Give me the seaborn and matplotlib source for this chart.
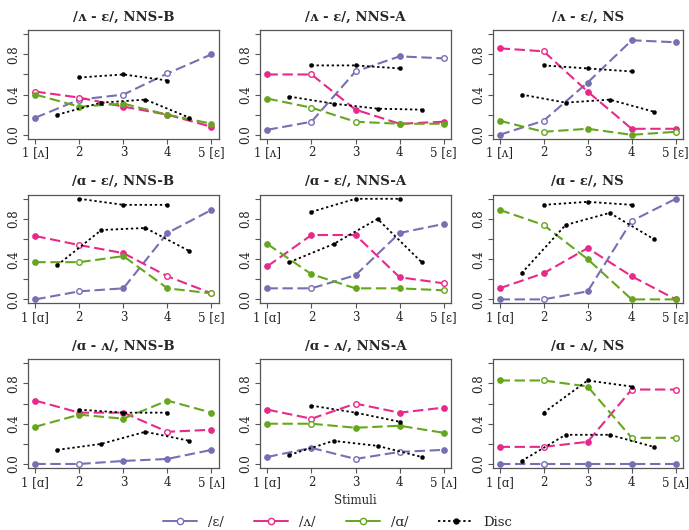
import matplotlib
matplotlib.use("Agg")
import matplotlib.pyplot as plt
from matplotlib.lines import Line2D
import seaborn as sns
import pandas as pd

# panel titles, row by row
panel_titles = ["/ʌ - ɛ/, NNS-B", "/ʌ - ɛ/, NNS-A", "/ʌ - ɛ/, NS",
                "/ɑ - ɛ/, NNS-B", "/ɑ - ɛ/, NNS-A", "/ɑ - ɛ/, NS",
                "/ɑ - ʌ/, NNS-B", "/ɑ - ʌ/, NNS-A", "/ɑ - ʌ/, NS"]
row_ticklabels = [["1 [ʌ]", "2", "3", "4", "5 [ɛ]"],
                  ["1 [ɑ]", "2", "3", "4", "5 [ɛ]"],
                  ["1 [ɑ]", "2", "3", "4", "5 [ʌ]"]]
stimuli = [1, 2, 3, 4, 5]
disc_two_x = [2, 3, 4]
disc_one_x = [1.5, 2.5, 3.5, 4.5]

# proportion of responses per stimulus, one list per panel
eps_resp = [[0.17, 0.35, 0.40, 0.61, 0.80],
            [0.05, 0.13, 0.63, 0.78, 0.76],
            [0.00, 0.14, 0.52, 0.94, 0.92],
            [0.00, 0.08, 0.11, 0.66, 0.89],
            [0.11, 0.11, 0.24, 0.66, 0.75],
            [0.00, 0.00, 0.08, 0.78, 1.00],
            [0.00, 0.00, 0.03, 0.05, 0.14],
            [0.07, 0.16, 0.05, 0.12, 0.14],
            [0.00, 0.00, 0.00, 0.00, 0.00]]
wedge_resp = [[0.43, 0.37, 0.28, 0.20, 0.08],
              [0.60, 0.60, 0.25, 0.11, 0.13],
              [0.86, 0.83, 0.43, 0.06, 0.06],
              [0.63, 0.54, 0.46, 0.23, 0.06],
              [0.33, 0.64, 0.64, 0.22, 0.16],
              [0.11, 0.26, 0.51, 0.23, 0.00],
              [0.63, 0.51, 0.51, 0.32, 0.34],
              [0.54, 0.45, 0.60, 0.51, 0.56],
              [0.17, 0.17, 0.22, 0.74, 0.74]]
alpha_resp = [[0.40, 0.28, 0.31, 0.20, 0.11],
              [0.36, 0.27, 0.13, 0.11, 0.11],
              [0.14, 0.03, 0.06, 0.00, 0.03],
              [0.37, 0.37, 0.43, 0.11, 0.06],
              [0.55, 0.25, 0.11, 0.11, 0.09],
              [0.89, 0.74, 0.40, 0.00, 0.00],
              [0.37, 0.49, 0.45, 0.63, 0.51],
              [0.40, 0.40, 0.36, 0.38, 0.31],
              [0.83, 0.83, 0.77, 0.26, 0.26]]
# discrimination: two-step pairs (2,3,4) and one-step pairs (1.5..4.5)
disc_two = [[0.57, 0.60, 0.54],
            [0.69, 0.69, 0.66],
            [0.69, 0.66, 0.63],
            [1.00, 0.94, 0.94],
            [0.87, 1.00, 1.00],
            [0.94, 0.97, 0.94],
            [0.54, 0.51, 0.51],
            [0.58, 0.51, 0.42],
            [0.51, 0.83, 0.77]]
disc_one = [[0.20, 0.32, 0.35, 0.17],
            [0.38, 0.31, 0.26, 0.25],
            [0.40, 0.32, 0.35, 0.23],
            [0.34, 0.69, 0.71, 0.48],
            [0.37, 0.55, 0.80, 0.37],
            [0.26, 0.74, 0.86, 0.60],
            [0.14, 0.20, 0.32, 0.23],
            [0.09, 0.23, 0.18, 0.07],
            [0.03, 0.29, 0.29, 0.17]]
# stimuli drawn with an open circle
eps_open = [[2, 3, 4], [2, 3, 5], [2], [2], [2], [2, 4], [2], [3, 4], [2]]
wedge_open = [[1, 2], [2], [2], [2, 4], [5], [], [4], [2, 3], [2, 4, 5]]
alpha_open = [[], [2, 3], [2, 5], [2, 5], [5], [2], [], [2], [2, 4, 5]]

purple, magenta, green = "#7570B3", "#E7298A", "#66A61E"
frame = "#555555"

sns.set_style("ticks")
plt.rcParams["font.family"] = ["DejaVu Serif"]

fig, axes = plt.subplots(3, 3, figsize=(6.89, 5.30), dpi=100)
fig.subplots_adjust(left=0.041, right=0.991, top=0.943, bottom=0.117,
                    wspace=0.22, hspace=0.515)

dash = (0, (5, 2.2))
series = [(eps_resp, eps_open, purple),
          (wedge_resp, wedge_open, magenta),
          (alpha_resp, alpha_open, green)]

for i, ax in enumerate(axes.flatten()):
    for resp, opened, col in series:
        df = pd.DataFrame({"x": stimuli, "y": resp[i]})
        sns.lineplot(data=df, x="x", y="y", ax=ax, color=col, lw=1.5,
                     linestyle=dash, zorder=2)
        df["open"] = df["x"].isin(opened[i])
        closed_pts = df[~df["open"]]
        open_pts = df[df["open"]]
        sns.scatterplot(data=closed_pts, x="x", y="y", ax=ax, color=col,
                        edgecolor=col, s=16, linewidth=0.8, zorder=3)
        sns.scatterplot(data=open_pts, x="x", y="y", ax=ax, color="white",
                        edgecolor=col, s=16, linewidth=1.0, zorder=3)

    for xs, ys in [(disc_two_x, disc_two[i]), (disc_one_x, disc_one[i])]:
        d = pd.DataFrame({"x": xs, "y": ys})
        sns.lineplot(data=d, x="x", y="y", ax=ax, color="black", lw=1.3,
                     linestyle=(0, (1.3, 1.5)), zorder=4)
        sns.scatterplot(data=d, x="x", y="y", ax=ax, color="black",
                        edgecolor="black", s=9, zorder=5)

    ax.set_xlim(0.84, 5.16)
    ax.set_ylim(-0.04, 1.04)
    ax.set_xticks(stimuli)
    ax.set_xticklabels(row_ticklabels[i // 3], fontsize=8.5)
    ax.set_yticks([0, 0.2, 0.4, 0.6, 0.8, 1.0])
    ax.set_yticklabels(["0.0", "", "0.4", "", "0.8", ""], fontsize=8.5,
                       rotation=90, va="center")
    ax.tick_params(colors=frame, labelcolor="#222222", length=3.5, width=0.8,
                   pad=2)
    for sp in ax.spines.values():
        sp.set_color(frame)
        sp.set_linewidth(0.9)
    ax.set_xlabel("")
    ax.set_ylabel("")
    ax.set_title(panel_titles[i], fontsize=9.5, fontweight="bold", pad=7)

axes[2, 1].set_xlabel("Stimuli", fontsize=8.5, labelpad=4)

handles = [
    Line2D([], [], color=purple, lw=1.4, marker="o", ms=4.5,
           mfc="white", mec=purple),
    Line2D([], [], color=magenta, lw=1.4, marker="o", ms=4.5,
           mfc="white", mec=magenta),
    Line2D([], [], color=green, lw=1.4, marker="o", ms=4.5,
           mfc="white", mec=green),
    Line2D([], [], color="black", lw=1.3, linestyle=(0, (1.3, 1.5)),
           marker="o", ms=3.5),
]
fig.legend(handles, ["/ɛ/", "/ʌ/", "/ɑ/", "Disc"], loc="lower center",
           bbox_to_anchor=(0.49, -0.02), ncol=4, frameon=False,
           fontsize=9.5, handlelength=2.6, columnspacing=2.3)

fig.savefig("out.png", dpi=100)
